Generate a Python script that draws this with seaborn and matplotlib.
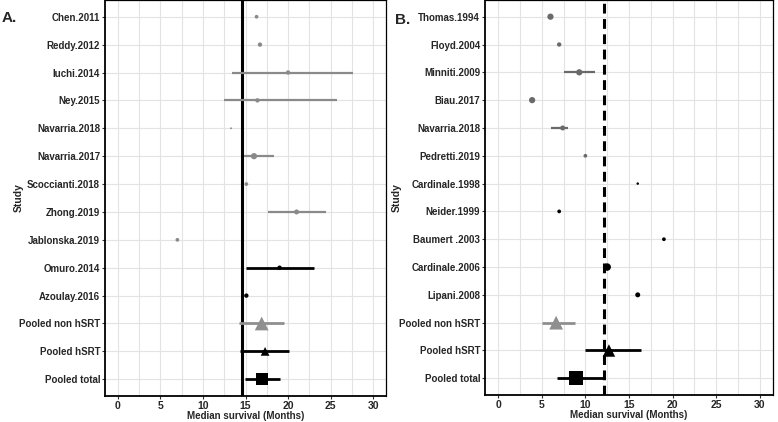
import numpy as np
import pandas as pd
import matplotlib
matplotlib.use("Agg")
import matplotlib.pyplot as plt
import seaborn as sns
from matplotlib.ticker import MultipleLocator

# %% data

studies_a = ["Chen.2011", "Reddy.2012", "Iuchi.2014", "Ney.2015", "Navarria.2018",
             "Navarria.2017", "Scoccianti.2018", "Zhong.2019", "Jablonska.2019",
             "Omuro.2014", "Azoulay.2016", "Pooled non hSRT", "Pooled hSRT", "Pooled total"]
est_a = [16.3, 16.7, 20.0, 16.4, 13.3, 16.0, 15.1, 21.0, 7.0, 19.0, 15.1, 16.9, 17.3, 16.9]
lo_a = [np.nan, np.nan, 13.4, 12.5, np.nan, 14.8, np.nan, 17.6, np.nan, 15.1, np.nan, 14.2, 14.35, 14.9]
hi_a = [np.nan, np.nan, 27.6, 25.8, np.nan, 18.3, np.nan, 24.5, np.nan, 23.06, np.nan, 19.5, 20.1, 19.0]
weight_a = [3.0, 3.5, 3.5, 3.5, 1.5, 5.0, 3.0, 4.0, 3.0, 3.5, 3.5, 11.0, 7.0, 9.5]
group_a = ["non"] * 9 + ["hsrt"] * 2 + ["pool_non", "pool_hsrt", "pool_total"]
ref_a = 14.6

studies_b = ["Thomas.1994", "Floyd.2004", "Minniti.2009", "Biau.2017", "Navarria.2018",
             "Pedretti.2019", "Cardinale.1998", "Neider.1999", "Baumert .2003",
             "Cardinale.2006", "Lipani.2008", "Pooled non hSRT", "Pooled hSRT", "Pooled total"]
est_b = [6.0, 7.0, 9.3, 3.9, 7.4, 10.0, 16.0, 7.0, 19.0, 12.5, 16.0, 6.65, 12.7, 8.9]
lo_b = [np.nan, np.nan, 7.5, np.nan, 6.1, np.nan, np.nan, np.nan, np.nan, np.nan, np.nan, 5.07, 9.97, 6.7]
hi_b = [np.nan, np.nan, 11.1, np.nan, 8.05, np.nan, np.nan, np.nan, np.nan, np.nan, np.nan, 8.8, 16.4, 12.06]
weight_b = [5.0, 3.5, 5.0, 5.0, 4.0, 3.0, 2.0, 3.0, 3.0, 6.0, 4.0, 11.0, 10.0, 11.0]
group_b = ["non"] * 6 + ["hsrt"] * 5 + ["pool_non", "pool_hsrt", "pool_total"]
ref_b = 12.1

# %% styling

sns.set_style("whitegrid")
plt.rcParams["font.family"] = ["Liberation Sans", "DejaVu Sans"]
plt.rcParams["font.weight"] = "bold"

markers = {"non": "o", "hsrt": "o", "pool_non": "^", "pool_hsrt": "^", "pool_total": "s"}


def forest(ax, studies, est, lo, hi, weight, group, ref, grey, ref_style):
    n = len(studies)
    df = pd.DataFrame({"study": studies, "est": est, "lo": lo, "hi": hi,
                       "weight": weight, "group": group, "pos": np.arange(n)})
    colors = {"non": grey, "hsrt": "black", "pool_non": "#8f8f8f",
              "pool_hsrt": "black", "pool_total": "black"}
    ax.axvline(ref, color="black", lw=2.2, ls=ref_style, zorder=1.5,
               dashes=(3.2, 1.8) if ref_style == "--" else (None, None))
    ci = df.dropna(subset=["lo"])
    ax.hlines(ci.pos, ci.lo, ci.hi, colors=[colors[g] for g in ci.group],
              lw=[1.6 if g == "non" else 2.0 for g in ci.group], zorder=2)
    sizes = {w: (w * 0.9) ** 2 for w in df.weight.unique()}
    sns.scatterplot(data=df, x="est", y="pos", hue="group", palette=colors,
                    style="group", markers=markers, size="weight", sizes=sizes,
                    linewidth=0, legend=False, ax=ax, zorder=3)
    ax.set_yticks(np.arange(n))
    ax.set_yticklabels(studies, fontsize=7, fontweight="bold")
    ax.set_ylim(n - 0.4, -0.6)
    ax.set_xlim(-1.5, 31.5)
    ax.xaxis.set_major_locator(MultipleLocator(5))
    ax.xaxis.set_minor_locator(MultipleLocator(2.5))
    ax.tick_params(axis="x", labelsize=7.5, pad=1)
    for lab in ax.get_xticklabels():
        lab.set_fontweight("bold")
    ax.tick_params(which="major", length=2.5, width=0.8, color="#333333", left=True, bottom=True)
    ax.tick_params(axis="y", pad=1)
    ax.grid(which="both", color="#e3e3e3", lw=0.8)
    for s in ax.spines.values():
        s.set_color("black")
        s.set_linewidth(0.9)
    ax.spines["left"].set_linewidth(1.3)
    ax.spines["bottom"].set_linewidth(1.3)
    ax.set_xlabel("Median survival (Months)", fontsize=7, fontweight="bold", labelpad=0)
    ax.set_ylabel("Study", fontsize=7.5, fontweight="bold")


fig = plt.figure(figsize=(7.78, 4.22), dpi=100)
ax_a = fig.add_axes([105 / 778, 26 / 422, 281 / 778, 396 / 422])
ax_b = fig.add_axes([485 / 778, 27 / 422, 288 / 778, 395 / 422])

forest(ax_a, studies_a, est_a, lo_a, hi_a, weight_a, group_a, ref_a, "#8a8a8a", "-")
forest(ax_b, studies_b, est_b, lo_b, hi_b, weight_b, group_b, ref_b, "#6a6a6a", "--")

ax_a.yaxis.set_label_coords(-0.29, 0.5)
ax_b.yaxis.set_label_coords(-0.29, 0.5)

fig.text(0.002, 0.975, "A.", fontsize=11, fontweight="bold", va="top")
fig.text(395 / 778, 0.97, "B.", fontsize=11, fontweight="bold", va="top")

plt.savefig("out.png", dpi=100)
